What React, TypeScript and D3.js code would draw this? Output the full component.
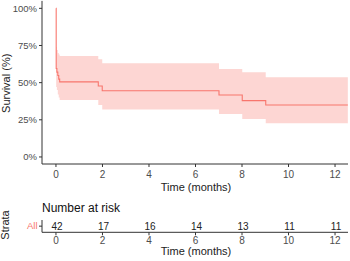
import React from "react";
import * as d3 from "d3";

const times = [0, 0.01, 0.04, 0.08, 0.12, 0.16, 1.82, 1.99, 7.01, 8.01, 9.02, 12.55];
const surv = [1, 0.595, 0.571, 0.548, 0.524, 0.505, 0.477, 0.446, 0.417, 0.379, 0.35, 0.35];
const upper = [1, 0.74, 0.72, 0.7, 0.69, 0.68, 0.657, 0.63, 0.592, 0.57, 0.536, 0.536];
const lower = [1, 0.47, 0.45, 0.42, 0.4, 0.383, 0.35, 0.32, 0.289, 0.256, 0.227, 0.227];

const xTicks = [0, 2, 4, 6, 8, 10, 12];
const yTicks = [0, 0.25, 0.5, 0.75, 1];
const riskTimes = [0, 2, 4, 6, 8, 10, 12];
const riskCounts = [42, 17, 16, 14, 13, 11, 11];
const strata = ["All"];

const W = 350;
const H = 261;
const RED = "#F8766D";
const AXIS = "#333333";
const FONT = "'Liberation Sans', Arial, sans-serif";

export default function App() {
  const x = d3.scaleLinear().domain([-0.6, 12.6]).range([42, 349]);
  const y = d3.scaleLinear().domain([-0.05, 1.05]).range([164.4, 0.9]);
  const yRisk = d3.scaleBand().domain(strata).range([220, 232.3]);

  const pts = times.map((t, i) => ({ t, s: surv[i], u: upper[i], l: lower[i] }));
  const line = d3
    .line<any>()
    .x((d) => x(d.t))
    .y((d) => y(d.s))
    .curve(d3.curveStepAfter);
  const area = d3
    .area<any>()
    .x((d) => x(d.t))
    .y0((d) => y(d.l))
    .y1((d) => y(d.u))
    .curve(d3.curveStepAfter);

  const x0 = 42;
  const x1 = 348;
  const yAxisY = 164;
  const riskAxisY = 232.3;

  return (
    <svg
      width={W}
      height={H}
      style={{ position: "absolute", left: 0, top: 0, background: "#fff" }}
      fontFamily={FONT}
    >
      {/* survival band and curve */}
      <path d={area(pts) || ""} fill={RED} fillOpacity={0.3} stroke="none" />
      <path d={line(pts) || ""} fill="none" stroke={RED} strokeWidth={1.1} />

      {/* main axes */}
      <line x1={x0} x2={x0} y1={0.9} y2={yAxisY} stroke={AXIS} strokeWidth={1} />
      <line x1={x0} x2={x1} y1={yAxisY} y2={yAxisY} stroke={AXIS} strokeWidth={1} />
      {yTicks.map((v) => (
        <g key={"yt" + v}>
          <line x1={39} x2={x0} y1={y(v)} y2={y(v)} stroke={AXIS} />
          <text
            x={37}
            y={y(v)}
            dy="0.35em"
            textAnchor="end"
            fontSize={9.5}
            fill="#4d4d4d"
          >
            {Math.round(v * 100) + "%"}
          </text>
        </g>
      ))}
      {xTicks.map((v) => (
        <g key={"xt" + v}>
          <line x1={x(v)} x2={x(v)} y1={yAxisY} y2={yAxisY + 3} stroke={AXIS} />
          <text x={x(v)} y={178.3} textAnchor="middle" fontSize={10} fill="#4d4d4d">
            {v}
          </text>
        </g>
      ))}
      <text x={196} y={191.2} textAnchor="middle" fontSize={11} fill="#222">
        Time (months)
      </text>
      <text
        transform={`translate(10,83.3) rotate(-90)`}
        textAnchor="middle"
        fontSize={11}
        fill="#222"
      >
        Survival (%)
      </text>

      {/* risk table */}
      <text x={42} y={212.3} fontSize={12} fill="#111">
        Number at risk
      </text>
      <line x1={x0} x2={x0} y1={220} y2={riskAxisY} stroke={AXIS} />
      <line x1={x0} x2={x1} y1={riskAxisY} y2={riskAxisY} stroke={AXIS} />
      {strata.map((s) => {
        const cy = (yRisk(s) || 0) + yRisk.bandwidth() / 2;
        return (
          <g key={s}>
            <line x1={39} x2={x0} y1={cy} y2={cy} stroke={AXIS} />
            <text x={37.5} y={cy} dy="0.35em" textAnchor="end" fontSize={9.5} fill={RED}>
              {s}
            </text>
            {riskTimes.map((t, i) => (
              <text
                key={"r" + t}
                x={x(t) + 1}
                y={cy}
                dy="0.35em"
                textAnchor="middle"
                fontSize={10}
                fill="#222"
              >
                {riskCounts[i]}
              </text>
            ))}
          </g>
        );
      })}
      {xTicks.map((v) => (
        <g key={"rxt" + v}>
          <line x1={x(v)} x2={x(v)} y1={riskAxisY} y2={riskAxisY + 3} stroke={AXIS} />
          <text x={x(v)} y={244.3} textAnchor="middle" fontSize={10} fill="#4d4d4d">
            {v}
          </text>
        </g>
      ))}
      <text x={196} y={255.2} textAnchor="middle" fontSize={11} fill="#222">
        Time (months)
      </text>
      <text
        transform={`translate(9.3,225) rotate(-90)`}
        textAnchor="middle"
        fontSize={11}
        fill="#222"
      >
        Strata
      </text>
    </svg>
  );
}
